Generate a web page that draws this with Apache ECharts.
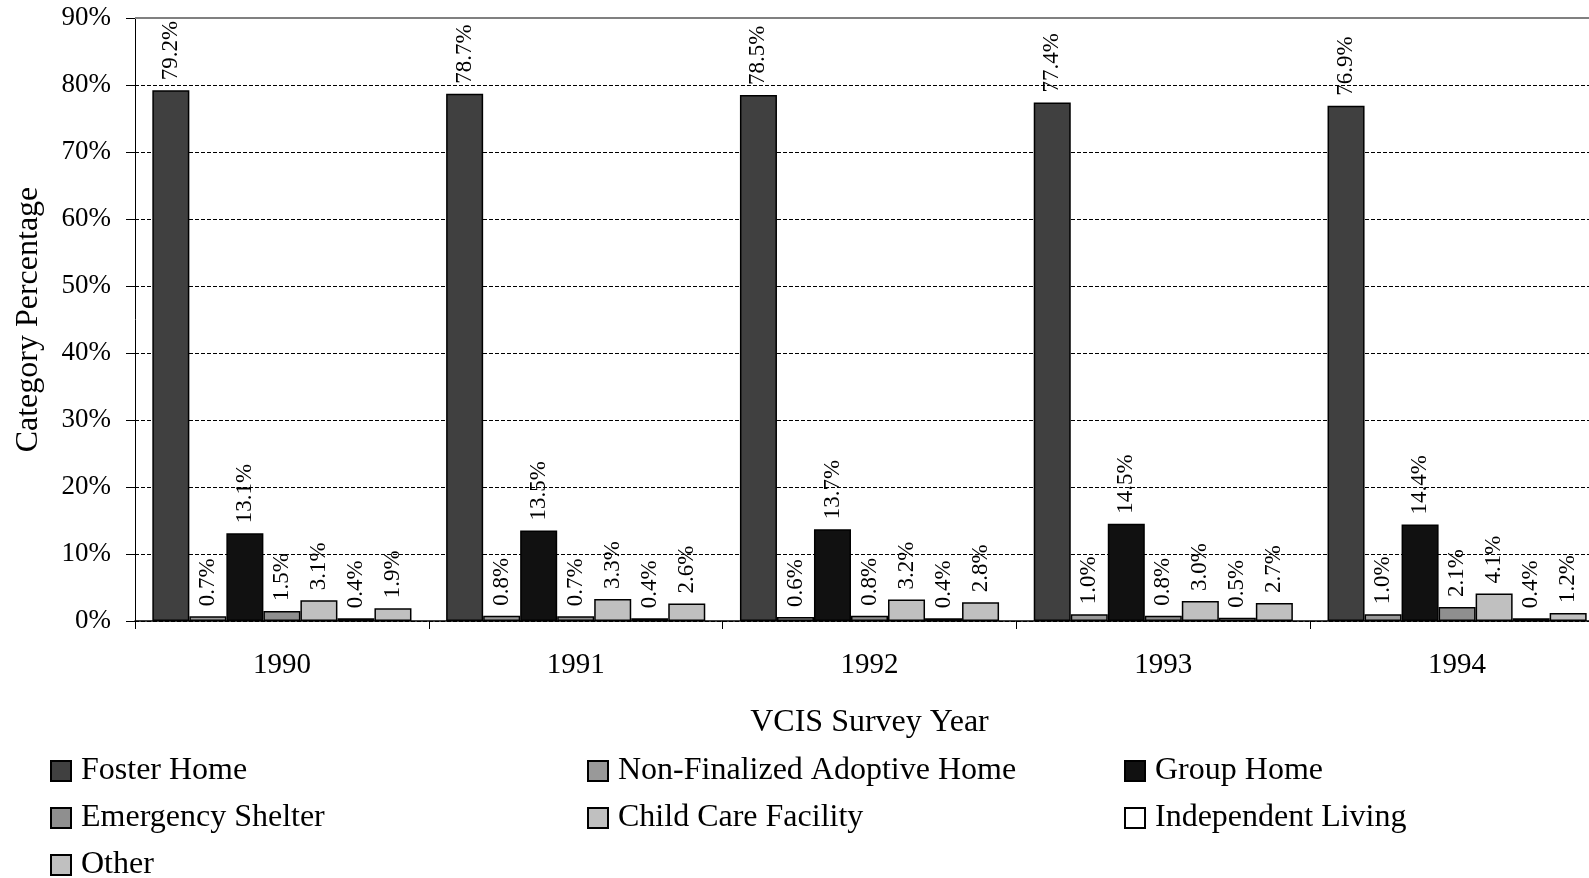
<!DOCTYPE html>
<html>
<head>
<meta charset="utf-8">
<script src="https://cdn.jsdelivr.net/npm/echarts@6/dist/echarts.min.js"></script>
<style>
  html, body { margin: 0; padding: 0; background: #fff; }
  #chart { width: 1589px; height: 878px; }
</style>
</head>
<body>
<div id="chart"></div>
<script>
// survey years
const years = ['1990', '1991', '1992', '1993', '1994'];
// placement categories (percent)
const fosterHome = [79.2, 78.7, 78.5, 77.4, 76.9];
const adoptiveHome = [0.7, 0.8, 0.6, 1.0, 1.0];
const groupHome = [13.1, 13.5, 13.7, 14.5, 14.4];
const emergencyShelter = [1.5, 0.7, 0.8, 0.8, 2.1];
const childCare = [3.1, 3.3, 3.2, 3.0, 4.1];
const independentLiving = [0.4, 0.4, 0.4, 0.5, 0.4];
const other = [1.9, 2.6, 2.8, 2.7, 1.2];

const font = "'Liberation Serif', 'Times New Roman', serif";

const chart = echarts.init(document.getElementById('chart'));

function bar(name, data, color) {
  return {
    name: name,
    type: 'bar',
    data: data,
    barGap: 0,
    barCategoryGap: '11.8%',
    itemStyle: { color: color, borderColor: '#000', borderWidth: 1.5 },
    label: {
      show: true,
      position: 'top',
      rotate: 90,
      align: 'left',
      verticalAlign: 'middle',
      distance: 10,
      fontFamily: font,
      fontSize: 23,
      color: '#000',
      formatter: p => p.value.toFixed(1) + '%'
    }
  };
}

const legendBase = {
  orient: 'vertical',
  itemWidth: 20,
  itemHeight: 20,
  itemGap: 15,
  icon: 'rect',
  height: 150,
  textStyle: { fontFamily: font, fontSize: 32, color: '#000', padding: [0, 0, 0, 5] },
  top: 750
};

const series = [
  bar('Foster Home', fosterHome, '#404040'),
  bar('Non-Finalized Adoptive Home', adoptiveHome, '#999999'),
  bar('Group Home', groupHome, '#111111'),
  bar('Emergency Shelter', emergencyShelter, '#8f8f8f'),
  bar('Child Care Facility', childCare, '#c0c0c0'),
  bar('Independent Living', independentLiving, '#ffffff'),
  bar('Other', other, '#c0c0c0')
];
// solid gray top border of the plot area
series[0].markLine = {
  silent: true,
  symbol: 'none',
  label: { show: false },
  lineStyle: { color: '#808080', type: 'solid', width: 2 },
  data: [{ yAxis: 90 }]
};

const option = {
  animation: false,
  grid: { left: 135, right: -15, top: 18, bottom: 257, outerBoundsMode: 'none', containLabel: false },
  legend: [
    Object.assign({}, legendBase, { left: 45, data: ['Foster Home', 'Emergency Shelter', 'Other'] }),
    Object.assign({}, legendBase, { left: 582, data: ['Non-Finalized Adoptive Home', 'Child Care Facility'] }),
    Object.assign({}, legendBase, { left: 1119, data: ['Group Home', 'Independent Living'] })
  ],
  xAxis: {
    type: 'category',
    data: years,
    name: 'VCIS Survey Year',
    nameLocation: 'middle',
    nameGap: 86,
    nameTextStyle: { fontFamily: font, fontSize: 32, color: '#000' },
    axisLine: { lineStyle: { color: '#000', width: 1.5 } },
    axisTick: { show: true, length: 8, lineStyle: { color: '#000' } },
    axisLabel: { fontFamily: font, fontSize: 29, color: '#000', margin: 30 }
  },
  yAxis: {
    type: 'value',
    min: 0,
    max: 90,
    interval: 10,
    name: 'Category Percentage',
    nameLocation: 'middle',
    nameGap: 90,
    nameTextStyle: { fontFamily: font, fontSize: 32, color: '#000' },
    axisLine: { show: true, lineStyle: { color: '#000', width: 1 } },
    axisTick: { show: true, length: 9, lineStyle: { color: '#000' } },
    axisLabel: { fontFamily: font, fontSize: 27, color: '#000', margin: 24, formatter: '{value}%' },
    splitLine: { lineStyle: { color: '#000', type: [4, 2], width: 1 } }
  },
  series: series
};

chart.setOption(option);
</script>
</body>
</html>
